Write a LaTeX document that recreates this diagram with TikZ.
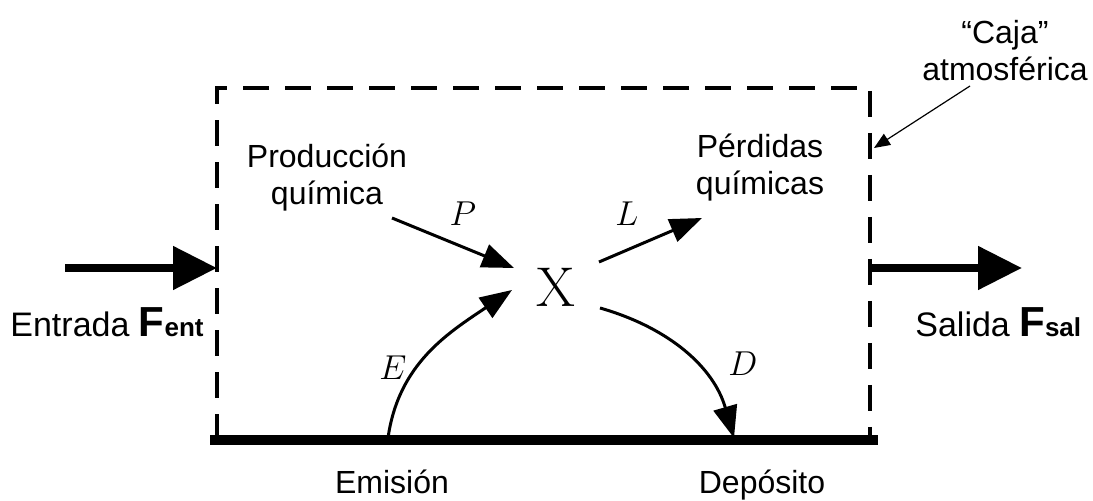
\documentclass[tikz,border=0pt]{standalone}
\usepackage{fontspec}
\setsansfont{Liberation Sans}
\usetikzlibrary{arrows.meta, positioning, calc}
\tikzset{
  every node/.style={font=\sffamily\fontsize{16}{18.5}\selectfont, inner sep=0pt},
  lbl/.style={align=center, anchor=base},
  big/.style={font=\sffamily\fontsize{17}{20}\selectfont},
  sym/.style={font=\fontsize{19}{22}\selectfont},
  arr/.style={-{Triangle[length=16pt,width=12pt]}, line width=1.5pt},
  bigarr/.style={-{Triangle[length=22pt,width=21pt]}, line width=4pt},
  thinarr/.style={-{Triangle[length=8pt,width=6.5pt]}, line width=0.6pt},
  boxline/.style={dash pattern=on 13pt off 8pt, line width=2pt},
}
\newcommand{\flux}[2]{{\bfseries\fontsize{21}{24}\selectfont #1}{\bfseries\fontsize{13}{15}\selectfont #2}}

\begin{document}
\begin{tikzpicture}[x=0.5pt, y=-0.5pt]
  \useasboundingbox (0,0) rectangle (1093,501);
  % box and ground
  \coordinate (bl) at (217,440);
  \coordinate (tl) at (217,88);
  \coordinate (tr) at (870,88);
  \coordinate (br) at (870,440);
  \draw[boxline] (bl) -- (tl) -- (tr) -- (br);
  \coordinate (gl) at (210,440);
  \coordinate (gr) at (878,440);
  \draw[line width=5pt] (gl) -- (gr);
  % species
  \node[font=\rmfamily\fontsize{28}{30}\selectfont] (X) at (556,287) {X};
  % labels (base = last line)
  \node[lbl] (prod) at (327,205) {Producción\\química};
  \node[lbl] (perd) at (760,195) {Pérdidas\\químicas};
  \node[lbl] (caja) at (1005,81) {“Caja”\\atmosférica};
  \node[big, anchor=base west] (ent) at (10,337) {Entrada \flux{F}{ent}};
  \node[big, anchor=base west] (sal) at (915,337) {Salida \flux{F}{sal}};
  \node[lbl] (emi) at (392,494) {Emisión};
  \node[lbl] (dep) at (762,494) {Depósito};
  \node[sym] (P) at (463,214) {$P$};
  \node[sym] (L) at (627,214) {$L$};
  \node[sym] (E) at (393,368) {$E$};
  \node[sym] (D) at (743,364) {$D$};
  % flux arrows
  \coordinate (inS) at (65,268);
  \coordinate (inE) at (217,268);
  \coordinate (outS) at (870,268);
  \coordinate (outE) at (1022,268);
  \draw[bigarr] (inS) -- (inE);
  \draw[bigarr] (outS) -- (outE);
  % process arrows
  \coordinate (pS) at (392,218);
  \coordinate (pE) at (514,268);
  \coordinate (lS) at (599,262);
  \coordinate (lE) at (702,218);
  \coordinate (eS) at (388,438);
  \coordinate (eE) at (512,290);
  \coordinate (dS) at (600,308);
  \coordinate (dE) at (734,438);
  \draw[arr] (pS) -- (pE);
  \draw[arr] (lS) -- (lE);
  \draw[arr] (eS) to[out=82,in=214] (eE);
  \draw[arr] (dS) to[out=-16,in=106] (dE);
  % leader
  \coordinate (cajaS) at (970,86);
  \coordinate (cajaE) at (874,148);
  \draw[thinarr] (cajaS) -- (cajaE);
\end{tikzpicture}
\end{document}
